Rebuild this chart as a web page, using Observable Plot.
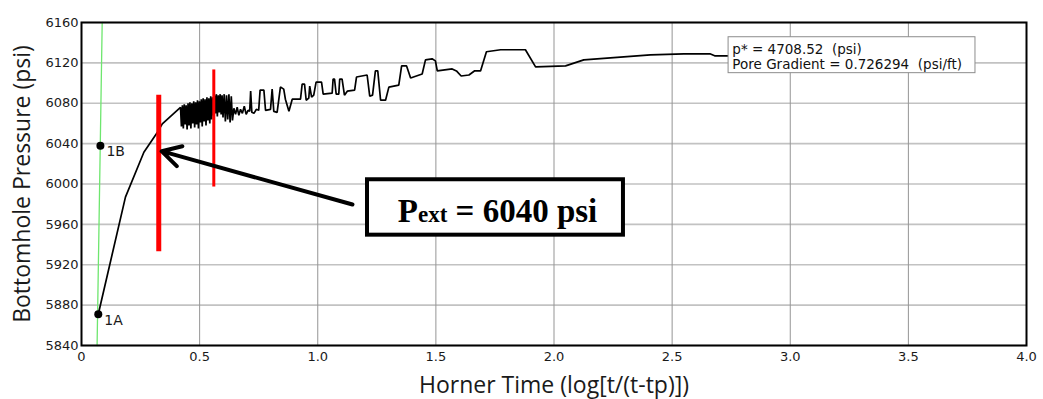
<!DOCTYPE html>
<html>
<head>
<meta charset="utf-8">
<script src="https://cdn.jsdelivr.net/npm/d3@7"></script>
<script src="https://cdn.jsdelivr.net/npm/@observablehq/plot@0.6"></script>
<style>
  body { margin: 0; background: #fff; }
  svg text { white-space: pre; }
</style>
</head>
<body>
<div id="chart"></div>
<script>
// ---- Data ----
const xTicks = [0, 0.5, 1, 1.5, 2, 2.5, 3, 3.5, 4];
const yTicks = [5840, 5880, 5920, 5960, 6000, 6040, 6080, 6120, 6160];
const xTitle = "Horner Time (log[t/(t-tp)])";
const yTitle = "Bottomhole Pressure (psi)";

// Bottomhole pressure vs Horner time
const hornerTime = [
  0.071, 0.186, 0.264, 0.320, 0.342, 0.419,
  0.423, 0.427, 0.431, 0.435, 0.439, 0.443, 0.447, 0.451, 0.455, 0.459,
  0.463, 0.467, 0.471, 0.475, 0.479, 0.483, 0.487, 0.491, 0.495, 0.499,
  0.503, 0.507, 0.511, 0.515, 0.519, 0.523, 0.527, 0.531, 0.535, 0.539,
  0.543, 0.547, 0.551, 0.555, 0.559, 0.563, 0.567, 0.571, 0.575, 0.579,
  0.583, 0.587, 0.591, 0.595, 0.599, 0.604, 0.609, 0.614, 0.619, 0.624,
  0.629, 0.634, 0.639, 0.645, 0.652, 0.659, 0.666, 0.673, 0.681, 0.689,
  0.697, 0.705, 0.712, 0.716, 0.721, 0.730, 0.740, 0.750, 0.756, 0.772,
  0.779, 0.800, 0.807, 0.814, 0.828, 0.842, 0.856, 0.863, 0.878, 0.892,
  0.927, 0.934, 0.944, 0.951, 0.962, 0.966, 0.974, 0.983, 0.993, 1.016,
  1.023, 1.061, 1.065, 1.071, 1.078, 1.089, 1.093, 1.103, 1.113, 1.125,
  1.156, 1.164, 1.209, 1.220, 1.232, 1.244, 1.254, 1.266, 1.287, 1.301,
  1.343, 1.355, 1.376, 1.393, 1.442, 1.456, 1.484, 1.498, 1.506, 1.569,
  1.587, 1.607, 1.640, 1.663, 1.689, 1.714, 1.774, 1.879, 1.922, 2.049,
  2.126, 2.408, 2.550, 2.660, 2.680, 2.750
];
const pressure = [
  5871, 5987, 6031.5, 6050.7, 6059.6, 6076,
  6057, 6078, 6055, 6079, 6059, 6078, 6054, 6080, 6058, 6081,
  6055, 6080, 6060, 6082, 6056, 6081, 6059, 6083, 6055, 6082,
  6061, 6084, 6057, 6085, 6062, 6084, 6058, 6086, 6063, 6085,
  6060, 6087, 6064, 6086, 6068, 6088, 6070, 6089, 6067, 6088,
  6071, 6089, 6069, 6088, 6066, 6089, 6062, 6088, 6064, 6089,
  6061, 6087, 6063, 6075, 6069, 6076, 6068, 6074, 6070, 6077,
  6069, 6073, 6072, 6092, 6071, 6070, 6074, 6073, 6093, 6093,
  6073, 6074, 6094, 6072, 6071, 6096, 6094, 6084, 6072, 6084,
  6084, 6099, 6099, 6083, 6085, 6097, 6086, 6088, 6101, 6101,
  6089, 6090, 6104, 6104, 6089, 6089, 6104, 6104, 6088, 6092,
  6093, 6106, 6108, 6087, 6088, 6112, 6112, 6083, 6083, 6096,
  6098, 6117, 6117, 6105, 6109, 6123, 6124, 6122, 6112, 6114,
  6112, 6107, 6108, 6112, 6112, 6131, 6133, 6133, 6116, 6117,
  6123, 6128, 6129, 6129, 6127, 6127
];

// Marked points
const pointNames = ["1A", "1B"];
const pointX = [0.071, 0.080];
const pointY = [5871, 6038];

// Green straight line (Horner line)
const greenX = [0.0876, 0.066];
const greenY = [6160, 5840];

// Red markers: thick one and thin one
const redThickX = [0.327], redThickY1 = [5933], redThickY2 = [6088];
const redThinX = [0.560], redThinY1 = [5997], redThinY2 = [6113];

// Arrow (tail -> tip)
const arrowTail = [1.147, 5979.7];
const arrowTip = [0.339, 6032.5];

// Annotation texts
const pStarText = "p* = 4708.52  (psi)";
const poreText = "Pore Gradient = 0.726294  (psi/ft)";
const pextValue = "6040";

// ---- Build ----
const curve = hornerTime.map((x, i) => ({x, y: pressure[i]}));
const pts = pointNames.map((n, i) => ({name: n, x: pointX[i], y: pointY[i]}));
const green = greenX.map((x, i) => ({x, y: greenY[i]}));
const redThick = redThickX.map((x, i) => ({x, y1: redThickY1[i], y2: redThickY2[i]}));
const redThin = redThinX.map((x, i) => ({x, y1: redThinY1[i], y2: redThinY2[i]}));
const arrow = [{x1: arrowTail[0], y1: arrowTail[1], x2: arrowTip[0], y2: arrowTip[1]}];
const infoBox = [{x1: 2.739, x2: 3.784, y1: 6109.8, y2: 6145.4}];
const pextBox = [{x1: 1.2106, x2: 2.294, y1: 5949.3, y2: 6004.2}];
const pextLabel = "P" + "ext" + " = " + pextValue + " psi";

const svg = Plot.plot({
  width: 1043,
  height: 399,
  marginLeft: 81,
  marginRight: 17,
  marginTop: 22,
  marginBottom: 54,
  style: {background: "white", fontFamily: "DejaVu Sans", fontSize: "13px", color: "#1a1a1a"},
  x: {domain: [0, 4], ticks: xTicks, tickFormat: d => d === 0 ? "0" : d.toFixed(1), tickSize: 0, tickPadding: 6, label: null},
  y: {domain: [5840, 6160], ticks: yTicks, tickFormat: d => String(d), tickSize: 0, tickPadding: 3, label: null},
  marks: [
    Plot.ruleY(yTicks, {stroke: "#c2c2c2", strokeWidth: 1.6}),
    Plot.ruleX(xTicks, {stroke: "#959595", strokeWidth: 1}),
    Plot.line(green, {x: "x", y: "y", stroke: "#6ee66e", strokeWidth: 1.3}),
    Plot.line(curve, {x: "x", y: "y", stroke: "#000", strokeWidth: 1.7, strokeLinejoin: "miter"}),
    Plot.ruleX(redThick, {x: "x", y1: "y1", y2: "y2", stroke: "#ff0000", strokeWidth: 5}),
    Plot.ruleX(redThin, {x: "x", y1: "y1", y2: "y2", stroke: "#ff0000", strokeWidth: 3}),
    Plot.dot(pts, {x: "x", y: "y", r: 4, fill: "#000", stroke: "none"}),
    Plot.text(pts, {x: "x", y: "y", text: "name", textAnchor: "start", dx: 6, dy: 6, fontSize: 14, fill: "#1a1a1a"}),
    Plot.arrow(arrow, {x1: "x1", y1: "y1", x2: "x2", y2: "y2", stroke: "#000", strokeWidth: 4, headLength: 8, headAngle: 58}),
    Plot.rect(infoBox, {x1: "x1", x2: "x2", y1: "y1", y2: "y2", fill: "white", stroke: "#8c8c8c", strokeWidth: 1}),
    Plot.text([pStarText + "\n" + poreText], {x: () => 2.755, y: () => 6139.5, text: d => d, textAnchor: "start", lineAnchor: "top", lineHeight: 1.11, fontSize: 13.5, fontFamily: "DejaVu Sans", fill: "#111"}),
    Plot.rect(pextBox, {x1: "x1", x2: "x2", y1: "y1", y2: "y2", fill: "white", stroke: "#000", strokeWidth: 4}),
    Plot.text([pextLabel], {x: () => 1.761, y: () => 5976.7, text: d => d, textAnchor: "middle", dy: 4, fontSize: 33, fontWeight: "bold", fontFamily: "Liberation Serif", fill: "#000"}),
    Plot.text([xTitle], {text: d => d, frameAnchor: "bottom", textAnchor: "middle", lineAnchor: "middle", dy: 40, fontSize: 23, fontFamily: "Open Sans", fill: "#1a1a1a"}),
    Plot.text([yTitle], {text: d => d, frameAnchor: "left", textAnchor: "middle", lineAnchor: "middle", dx: -59, rotate: -90, fontSize: 23, fontFamily: "Open Sans", fill: "#1a1a1a"}),
    Plot.frame({stroke: "#000", strokeWidth: 2})
  ]
});

// subscript styling for P_ext
const ns = "http://www.w3.org/2000/svg";
for (const t of svg.querySelectorAll("text")) {
  if (t.textContent === pextLabel) {
    t.textContent = "";
    const parts = [["P", null], ["ext", "23px"], [" = " + pextValue + " psi", null]];
    for (const [s, fs] of parts) {
      const sp = document.createElementNS(ns, "tspan");
      sp.textContent = s;
      if (fs) sp.setAttribute("style", "font-size:" + fs);
      t.appendChild(sp);
    }
  }
}

document.getElementById("chart").appendChild(svg);
</script>
</body>
</html>
